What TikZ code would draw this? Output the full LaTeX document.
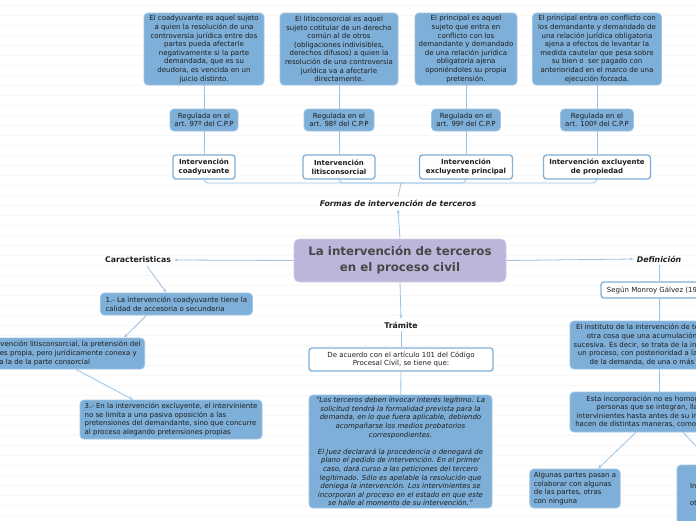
\documentclass[tikz,border=0pt]{standalone}
\usepackage{fontspec}
\setmainfont{DejaVu Sans}
\usetikzlibrary{arrows.meta}
\definecolor{boxblue}{HTML}{7EAFD8}
\definecolor{boxedge}{HTML}{9EC5E8}
\definecolor{linkblue}{HTML}{9CC2E5}
\definecolor{lav}{HTML}{BDB6DB}
\definecolor{lavedge}{HTML}{D3CEE8}
\definecolor{txt}{HTML}{1E1E1E}
\definecolor{ctext}{HTML}{474747}
\begin{document}
\begin{tikzpicture}[x=1pt,y=-1pt,
  every node/.style={font=\fontsize{7}{8.6}\selectfont, text=txt},
  bluebox/.style={draw=boxedge, line width=0.8pt, fill=boxblue, rounded corners=4pt, align=center, inner sep=2pt},
  whitebox/.style={draw=boxblue, line width=1.3pt, fill=white, rounded corners=3pt, align=center, inner sep=2pt},
  intbox/.style={whitebox, font=\fontsize{7}{8.6}\selectfont\bfseries},
  headlbl/.style={font=\fontsize{7.8}{9}\selectfont\bfseries, inner sep=3pt},
  link/.style={draw=linkblue, line width=0.8pt},
  arr/.style={link, -{Stealth[length=4pt,width=3pt]}},
]
\useasboundingbox (0,0) rectangle (696,520);
\clip (0,0) rectangle (696,520);
\fill[white] (0,0) rectangle (696,520);
\foreach \yy in {5,15,...,515} \draw[black!3, line width=0.5pt] (0,\yy) -- (696,\yy);

% top descriptions
\node[bluebox, minimum width=120pt, minimum height=72pt] (d1) at (204,49) {El coadyuvante es aquel sujeto\\a quien la resolución de una\\controversia jurídica entre dos\\partes pueda afectarle\\negativamente si la parte\\demandada, que es su\\deudora, es vencida en un\\juicio distinto.};
\node[bluebox, minimum width=118pt, minimum height=72pt] (d2) at (339,49) {El litisconsorcial es aquel\\sujeto cotitular de un derecho\\común al de otros\\(obligaciones indivisibles,\\derechos difusos) a quien la\\resolución de una controversia\\jurídica va a afectarle\\directamente.};
\node[bluebox, minimum width=102pt, minimum height=72pt] (d3) at (466,49) {El principal es aquel\\sujeto que entra en\\conflicto con los\\demandante y demandado\\de una relación jurídica\\obligatoria ajena\\oponiéndoles su propia\\pretensión.};
\node[bluebox, minimum width=129pt, minimum height=72pt] (d4) at (597,49) {El principal entra en conflicto con\\los demandante y demandado de\\una relación jurídica obligatoria\\ajena a efectos de levantar la\\medida cautelar que pesa sobre\\su bien o \ ser pagado con\\anterioridad en el marco de una\\ejecución forzada.};

% regulada
\node[bluebox, minimum width=68pt, minimum height=22pt] (r1) at (204,120) {Regulada en el\\art. 97º del C.P.P};
\node[bluebox, minimum width=70pt, minimum height=22pt] (r2) at (339,120) {Regulada en el\\art. 98º del C.P.P};
\node[bluebox, minimum width=69pt, minimum height=22pt] (r3) at (466,120) {Regulada en el\\art. 99º del C.P.P};
\node[bluebox, minimum width=73pt, minimum height=22pt] (r4) at (597,120) {Regulada en el\\art. 100º del C.P.P};

% intervention types
\node[intbox, minimum width=62pt, minimum height=24pt] (i1) at (204,167) {Intervención\\coadyuvante};
\node[intbox, minimum width=72pt, minimum height=24pt] (i2) at (339,167) {Intervención\\litisconsorcial};
\node[intbox, minimum width=93pt, minimum height=24pt] (i3) at (466,167) {Intervención\\excluyente principal};
\node[intbox, minimum width=107pt, minimum height=24pt] (i4) at (597,167) {Intervención excluyente\\de propiedad};

\foreach \k in {1,2,3,4} {
  \draw[link] (d\k) -- (r\k);
  \draw[link] (r\k) -- (i\k);
}

\coordinate (hub) at (401,183);
\node[headlbl, font=\fontsize{7.8}{9}\selectfont\bfseries\itshape] (formas) at (398,203) {Formas de intervención de terceros};
\foreach \k in {1,2,3,4} \draw[link, rounded corners=4pt] (i\k.south) |- (hub);
\draw[link] (hub) -- (formas.north);

% central
\node[draw=lavedge, line width=0.6pt, fill=lav, rounded corners=5pt, minimum width=212pt, minimum height=43pt, align=center, font=\fontsize{11.8}{16}\selectfont\bfseries, text=ctext] (central) at (400,260.5) {La intervención de terceros\\en el proceso civil};
\draw[arr] (central.north) -- (formas.south);

\node[headlbl] (carac) at (138,260) {Caracteristicas};
\node[headlbl, font=\fontsize{7.8}{9}\selectfont\bfseries\itshape] (defi) at (659,259) {Definición};
\node[headlbl] (tram) at (401,325) {Trámite};
\draw[arr] (central.west) -- (carac.east);
\draw[arr] (central.east) -- (defi.west);
\draw[arr] (central.south) -- (tram.north);

% characteristics
\node[bluebox, align=left, anchor=west, minimum height=22pt, minimum width=152pt, inner xsep=4pt] (c1) at (100,304) {1.- La intervención coadyuvante tiene la\\calidad de accesoria o secundaria};
\node[bluebox, align=left, anchor=east, minimum height=31pt, inner xsep=4pt] (c2) at (145,353.5) {2.- En la intervención litisconsorcial, la pretensión del\\interviniente es propia, pero jurídicamente conexa y\\dependiente a la de la parte consorcial};
\node[bluebox, align=left, minimum height=39pt, minimum width=182pt, inner xsep=4pt] (c3) at (171,419.5) {3.- En la intervención excluyente, el interviniente\\no se limita a una pasiva oposición a las\\pretensiones del demandante, sino que concurre\\al proceso alegando pretensiones propias};
\draw[arr] ([xshift=9pt]carac.south) -- ([xshift=-10pt]c1.north);
\draw[arr] ([xshift=-30pt]c1.south) -- ([xshift=-21pt]c2.north east);
\draw[arr] ([xshift=-69pt]c2.south east) -- ([xshift=-38pt]c3.north);

% definition
\node[whitebox, minimum width=116pt, minimum height=16pt] (seg) at (659,290) {Según Monroy Gálvez (1996):};
\node[bluebox, minimum width=178pt, minimum height=48pt] (inst) at (659,345) {El instituto de la intervención de terceros no es\\otra cosa que una acumulación subjetiva\\sucesiva. Es decir, se trata de la incorporación a\\un proceso, con posterioridad a la notificación\\de la demanda, de una o más personas};
\node[bluebox, minimum width=178pt, minimum height=40pt] (esta) at (659,412) {Esta incorporación no es homogénea: las\\personas que se integran, llamadas\\intervinientes hasta antes de su incorporación,\\hacen de distintas maneras, como por ejemplo:};
\node[bluebox, align=left, minimum width=90pt, minimum height=39pt, inner xsep=4pt] (alg) at (575,488.5) {Algunas partes pasan a\\colaborar con algunas\\de las partes, otras\\con ninguna};
\node[bluebox, minimum width=112pt, minimum height=64pt] (otra) at (733,497) {\\Intervienen como partes\\plenas del proceso,\\otras solo como terceros\\};
\draw[link] (defi) -- (seg);
\draw[link] (seg) -- (inst);
\draw[link] (inst) -- (esta);
\draw[arr] ([xshift=-23pt]esta.south) -- ([xshift=23pt]alg.north);
\draw[arr] ([xshift=24pt]esta.south) -- ([xshift=-19pt]otra.north);

% tramite
\node[whitebox, minimum width=184pt, minimum height=23pt] (acu) at (401,359.5) {De acuerdo con el artículo 101 del Código\\Procesal Civil, se tiene que:};
\node[bluebox, minimum width=183pt, minimum height=113pt, font=\fontsize{7}{8.6}\selectfont\itshape] (quote) at (400.5,451.5) {"Los terceros deben invocar interés legítimo. La\\solicitud tendrá la formalidad prevista para la\\demanda, en lo que fuera aplicable, debiendo\\acompañarse los medios probatorios\\correspondientes.\\[8.6pt]El Juez declarará la procedencia o denegará de\\plano el pedido de intervención. En el primer\\caso, dará curso a las peticiones del tercero\\legitimado. Sólo es apelable la resolución que\\deniega la intervención. Los intervinientes se\\incorporan al proceso en el estado en que este\\se halle al momento de su intervención."};
\draw[link] (tram) -- (acu);
\draw[link] (acu) -- (quote);
\end{tikzpicture}
\end{document}
